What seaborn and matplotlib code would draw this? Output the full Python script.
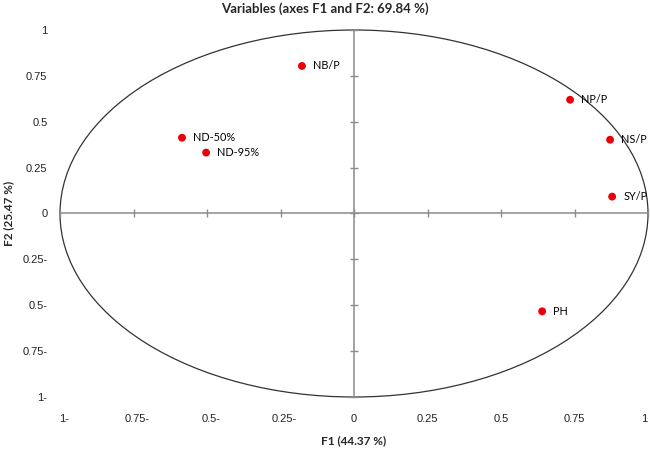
import matplotlib
matplotlib.use("Agg")
import matplotlib.pyplot as plt
import matplotlib.patches as mpatches
import matplotlib.transforms as mtransforms
import pandas as pd
import seaborn as sns

# variable coordinates on the correlation circle
variables = ["NB/P", "ND-50%", "ND-95%", "NP/P", "NS/P", "SY/P", "PH"]
f1 = [-0.177, -0.585, -0.503, 0.735, 0.871, 0.878, 0.640]
f2 = [0.804, 0.413, 0.332, 0.620, 0.402, 0.092, -0.533]

tick_values = [-1, -0.75, -0.5, -0.25, 0, 0.25, 0.5, 0.75, 1]
tick_labels = ["1-", "0.75-", "0.5-", "0.25-", "0", "0.25", "0.5", "0.75", "1"]

df = pd.DataFrame({"F1": f1, "F2": f2, "var": variables})

sns.set_theme(style="white")
plt.rcParams['font.family'] = ['Liberation Sans', 'DejaVu Sans']

fig = plt.figure(figsize=(6.5, 4.49), dpi=100)
ax = fig.add_axes([60 / 650, 52 / 449, 588 / 650, 367 / 449])

# correlation circle
circle = mpatches.Ellipse((0, 0), 2, 2, fill=False, edgecolor="#333333", linewidth=0.9, clip_on=False)
ax.add_patch(circle)

# axis cross with ticks
ax.plot([-1, 1], [0, 0], color="#8c8c8c", linewidth=1.1, clip_on=False, zorder=1)
ax.plot([0, 0], [-1, 1], color="#8c8c8c", linewidth=1.1, clip_on=False, zorder=1)
ax.plot(tick_values, [0] * len(tick_values), linestyle="none", marker="|", markersize=6,
        color="#8c8c8c", clip_on=False)
ax.plot([0] * len(tick_values), tick_values, linestyle="none", marker="_", markersize=6,
        color="#8c8c8c", clip_on=False)

sns.scatterplot(data=df, x="F1", y="F2", color="#e8000b", s=32, edgecolor="none", ax=ax, zorder=3)
for x, y, name in zip(f1, f2, variables):
    ax.annotate(name, (x, y), xytext=(8, 0), textcoords="offset points", va="center", ha="left",
                fontsize=7.8, color="black", family=["Lato", "DejaVu Sans"])

ax.set_xlim(-1, 1)
ax.set_ylim(-1, 1)
ax.set_xticks(tick_values)
ax.set_xticklabels(tick_labels)
ax.set_yticks(tick_values)
ax.set_yticklabels(tick_labels)
ax.tick_params(axis="x", length=0, pad=12, labelsize=8, labelcolor="#222222")
ax.tick_params(axis="y", length=0, pad=9, labelsize=8, labelcolor="#222222")
for s in ax.spines.values():
    s.set_visible(False)

# the trailing "-" pushes negative labels a little to the right; last label kept inside
for lab in ax.get_xticklabels():
    txt = lab.get_text()
    if txt.endswith("-"):
        dx = 4
    elif txt == "1":
        dx = -4
    else:
        dx = 0
    lab.set_transform(lab.get_transform() + mtransforms.ScaledTranslation(dx / 100, 0, fig.dpi_scale_trans))

ax.set_xlabel("F1 (44.37 %)", fontsize=8.5, fontweight="bold", family=["Lato", "DejaVu Sans"], labelpad=8)
ax.set_ylabel("F2 (25.47 %)", fontsize=8.5, fontweight="bold", family=["Lato", "DejaVu Sans"], labelpad=6)
fig.suptitle("Variables (axes F1 and F2: 69.84 %)", x=0.5, y=0.995, fontsize=9.5, fontweight="bold",
             family=["Lato", "DejaVu Sans"])

plt.savefig("out.png", dpi=100)
